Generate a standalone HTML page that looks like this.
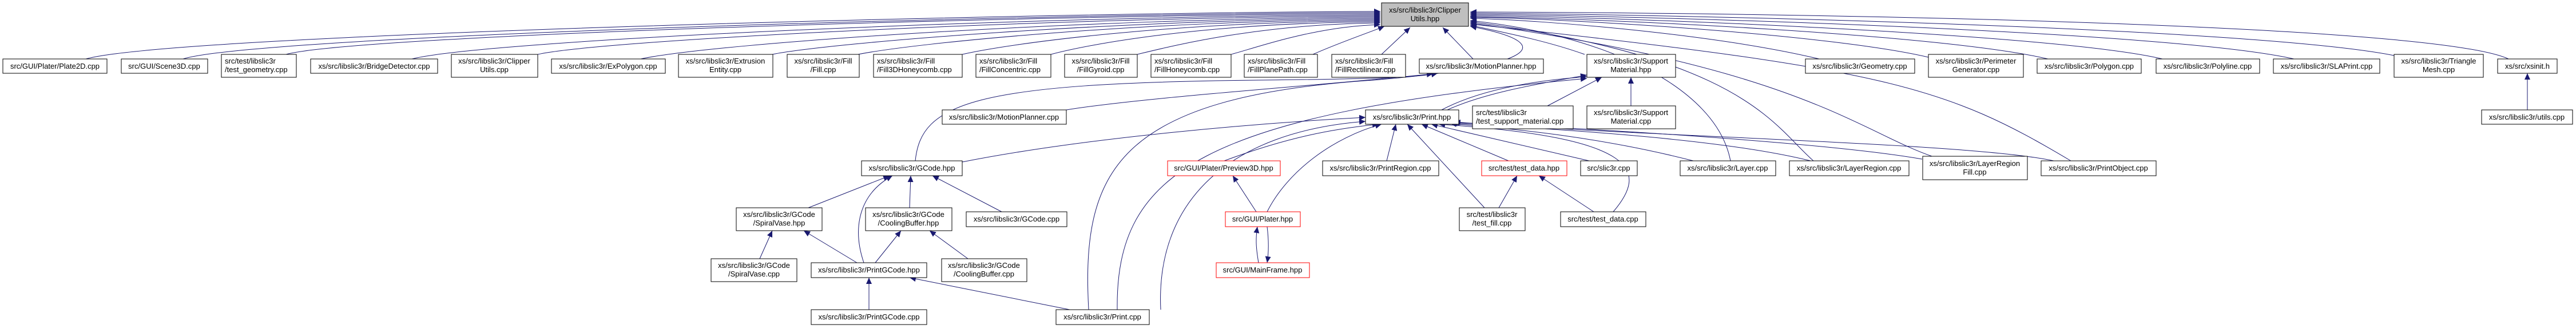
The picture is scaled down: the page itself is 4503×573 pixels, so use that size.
<!DOCTYPE html>
<html><head><meta charset="utf-8"><style>
html,body{margin:0;padding:0;background:#fff}
svg{display:block}
text{font-family:"Liberation Sans",Arial,sans-serif;font-size:13px;fill:#000}
.b{fill:#fff;stroke:#000;stroke-width:1}
.r{fill:#fff;stroke:#f00;stroke-width:1}
.g{fill:#bfbfbf;stroke:#000;stroke-width:1}
.e{fill:none;stroke:#191970;stroke-width:1}
</style></head><body>
<svg width="4503" height="573" viewBox="0 0 4503 573" xmlns="http://www.w3.org/2000/svg">
<defs><marker id="a" markerUnits="userSpaceOnUse" markerWidth="12" markerHeight="10" refX="11" refY="5" orient="auto"><path d="M0,0 L11,5 L0,10 z" fill="#191970"/></marker></defs>
<g class="e" marker-end="url(#a)">
<path d="M150,103 C300,60 1800,22 2413,20"/>
<path d="M320,103 C450,62 1800,24 2413,22"/>
<path d="M500,95 C620,62 1800,26 2413,24"/>
<path d="M720,103 C850,70 1800,28 2413,26"/>
<path d="M940,95 C1050,70 1850,30 2413,28"/>
<path d="M1120,103 C1250,75 1900,32 2413,30"/>
<path d="M1350,95 C1450,75 1950,34 2413,32"/>
<path d="M1500,95 C1600,75 2000,36 2413,34"/>
<path d="M1682,95 C1770,75 2050,38 2413,36"/>
<path d="M1837,95 C1900,78 2100,40 2413,38"/>
<path d="M1988,95 C2050,80 2200,42 2413,40"/>
<path d="M2152,95 C2200,82 2300,46 2413,43"/>
<path d="M2295,95 C2340,75 2390,58 2420,46"/>
<path d="M2415,95 L2465,48"/>
<path d="M2575,103 L2522,48"/>
<path d="M2770,95 C2700,70 2620,55 2570,44"/>
<path d="M3180,103 C3000,60 2700,35 2570,32"/>
<path d="M3371,100 C3200,60 2750,33 2570,30"/>
<path d="M3580,103 C3400,60 2800,32 2570,29"/>
<path d="M3780,103 C3600,60 2850,30 2570,27"/>
<path d="M4010,103 C3800,55 2900,28 2570,25"/>
<path d="M4185,97 C3950,50 3000,26 2570,23"/>
<path d="M4385,103 C4250,40 3100,22 2570,21"/>
<path d="M3025,281 C3000,150 2800,60 2570,36"/>
<path d="M3170,281 C3100,220 3050,100 2570,38"/>
<path d="M3380,274 C3250,230 3150,120 2570,40"/>
<path d="M3620,281 C3400,150 3300,120 2570,42"/>
<path d="M1903,541 C1890,300 1950,170 2400,140 C2650,120 2750,80 2570,46"/>
<path d="M1600,281 C1610,180 1700,145 2200,140 C2400,138 2480,135 2513,128"/>
<path d="M1864,192 C2000,170 2300,150 2505,129"/>
<path d="M2530,192 C2600,160 2700,145 2774,131"/>
<path d="M2520,192 C2590,155 2690,140 2774,134"/>
<path d="M1953,541 C1950,300 2100,200 2774,137"/>
<path d="M2705,185 L2800,135"/>
<path d="M2851,185 L2851,135"/>
<path d="M1682,283 C1900,240 2200,215 2387,205"/>
<path d="M2029,541 C2020,350 2150,230 2387,212"/>
<path d="M2140,281 C2250,240 2330,225 2410,217"/>
<path d="M2215,370 C2250,300 2330,240 2415,217"/>
<path d="M2424,281 L2440,217"/>
<path d="M2595,363 L2460,217"/>
<path d="M2637,281 L2485,217"/>
<path d="M2778,281 L2502,217"/>
<path d="M2820,370 C2880,300 2870,240 2515,217"/>
<path d="M2960,281 C2800,240 2650,225 2535,216"/>
<path d="M3165,281 C3000,240 2700,225 2537,215"/>
<path d="M3360,278 C3200,250 2800,225 2540,214"/>
<path d="M3590,281 C3450,250 2900,240 2542,213"/>
<path d="M1413,363 L1555,307"/>
<path d="M1510,459 C1490,400 1500,340 1560,307"/>
<path d="M1590,363 L1592,307"/>
<path d="M1751,370 L1630,307"/>
<path d="M1328,452 L1350,403"/>
<path d="M1498,459 L1405,403"/>
<path d="M1530,459 L1575,403"/>
<path d="M1692,452 L1625,403"/>
<path d="M1519,541 L1519,485"/>
<path d="M1870,541 L1590,485"/>
<path d="M2196,370 L2155,307"/>
<path d="M2200,459 C2195,430 2195,415 2198,396"/>
<path d="M2215,396 C2218,420 2218,440 2215,459"/>
<path d="M2620,363 L2652,307"/>
<path d="M2786,370 L2690,307"/>
<path d="M4418,192 L4418,128"/>
</g>
<!-- nodes -->
<rect class="g" x="2415" y="5" width="152" height="41"/><text x="2491" y="22" text-anchor="middle">xs/src/libslic3r/Clipper</text><text x="2491" y="37" text-anchor="middle">Utils.hpp</text>
<g text-anchor="middle">
<rect class="b" x="5" y="103" width="182" height="25"/><text x="96" y="120">src/GUI/Plater/Plate2D.cpp</text>
<rect class="b" x="212" y="103" width="151" height="25"/><text x="287" y="120">src/GUI/Scene3D.cpp</text>
<rect class="b" x="387" y="95" width="131" height="40"/><text x="393" y="111" text-anchor="start">src/test/libslic3r</text><text x="393" y="126" text-anchor="start">/test_geometry.cpp</text>
<rect class="b" x="543" y="103" width="222" height="25"/><text x="654" y="120">xs/src/libslic3r/BridgeDetector.cpp</text>
<rect class="b" x="789" y="95" width="151" height="40"/><text x="864" y="111">xs/src/libslic3r/Clipper</text><text x="864" y="126">Utils.cpp</text>
<rect class="b" x="964" y="103" width="199" height="25"/><text x="1063" y="120">xs/src/libslic3r/ExPolygon.cpp</text>
<rect class="b" x="1186" y="95" width="165" height="40"/><text x="1268" y="111">xs/src/libslic3r/Extrusion</text><text x="1268" y="126">Entity.cpp</text>
<rect class="b" x="1376" y="95" width="126" height="40"/><text x="1439" y="111">xs/src/libslic3r/Fill</text><text x="1439" y="126">/Fill.cpp</text>
<rect class="b" x="1527" y="95" width="155" height="40"/><text x="1533" y="111" text-anchor="start">xs/src/libslic3r/Fill</text><text x="1533" y="126" text-anchor="start">/Fill3DHoneycomb.cpp</text>
<rect class="b" x="1706" y="95" width="131" height="40"/><text x="1712" y="111" text-anchor="start">xs/src/libslic3r/Fill</text><text x="1712" y="126" text-anchor="start">/FillConcentric.cpp</text>
<rect class="b" x="1861" y="95" width="127" height="40"/><text x="1924" y="111">xs/src/libslic3r/Fill</text><text x="1924" y="126">/FillGyroid.cpp</text>
<rect class="b" x="2012" y="95" width="140" height="40"/><text x="2018" y="111" text-anchor="start">xs/src/libslic3r/Fill</text><text x="2018" y="126" text-anchor="start">/FillHoneycomb.cpp</text>
<rect class="b" x="2175" y="95" width="128" height="40"/><text x="2181" y="111" text-anchor="start">xs/src/libslic3r/Fill</text><text x="2181" y="126" text-anchor="start">/FillPlanePath.cpp</text>
<rect class="b" x="2328" y="95" width="129" height="40"/><text x="2334" y="111" text-anchor="start">xs/src/libslic3r/Fill</text><text x="2334" y="126" text-anchor="start">/FillRectilinear.cpp</text>
<rect class="b" x="2481" y="103" width="217" height="25"/><text x="2589" y="120">xs/src/libslic3r/MotionPlanner.hpp</text>
<rect class="b" x="2774" y="95" width="155" height="40"/><text x="2851" y="111">xs/src/libslic3r/Support</text><text x="2851" y="126">Material.hpp</text>
<rect class="b" x="3156" y="103" width="191" height="25"/><text x="3251" y="120">xs/src/libslic3r/Geometry.cpp</text>
<rect class="b" x="3371" y="95" width="166" height="40"/><text x="3454" y="111">xs/src/libslic3r/Perimeter</text><text x="3454" y="126">Generator.cpp</text>
<rect class="b" x="3561" y="103" width="182" height="25"/><text x="3652" y="120">xs/src/libslic3r/Polygon.cpp</text>
<rect class="b" x="3769" y="103" width="181" height="25"/><text x="3859" y="120">xs/src/libslic3r/Polyline.cpp</text>
<rect class="b" x="3974" y="103" width="186" height="25"/><text x="4067" y="120">xs/src/libslic3r/SLAPrint.cpp</text>
<rect class="b" x="4185" y="95" width="156" height="40"/><text x="4263" y="111">xs/src/libslic3r/Triangle</text><text x="4263" y="126">Mesh.cpp</text>
<rect class="b" x="4366" y="103" width="104" height="25"/><text x="4418" y="120">xs/src/xsinit.h</text>
<rect class="b" x="4338" y="192" width="159" height="25"/><text x="4417" y="209">xs/src/libslic3r/utils.cpp</text>
<rect class="b" x="1647" y="192" width="217" height="25"/><text x="1755" y="209">xs/src/libslic3r/MotionPlanner.cpp</text>
<rect class="b" x="2387" y="192" width="163" height="25"/><text x="2468" y="209">xs/src/libslic3r/Print.hpp</text>
<rect class="b" x="2574" y="185" width="176" height="40"/><text x="2580" y="201" text-anchor="start">src/test/libslic3r</text><text x="2580" y="216" text-anchor="start">/test_support_material.cpp</text>
<rect class="b" x="2774" y="185" width="155" height="40"/><text x="2851" y="201">xs/src/libslic3r/Support</text><text x="2851" y="216">Material.cpp</text>
<rect class="b" x="1506" y="281" width="176" height="26"/><text x="1594" y="298">xs/src/libslic3r/GCode.hpp</text>
<rect class="r" x="2041" y="281" width="197" height="26"/><text x="2139" y="298">src/GUI/Plater/Preview3D.hpp</text>
<rect class="b" x="2312" y="281" width="203" height="26"/><text x="2413" y="298">xs/src/libslic3r/PrintRegion.cpp</text>
<rect class="r" x="2590" y="281" width="149" height="26"/><text x="2664" y="298">src/test/test_data.hpp</text>
<rect class="b" x="2763" y="281" width="99" height="26"/><text x="2812" y="298">src/slic3r.cpp</text>
<rect class="b" x="2937" y="281" width="167" height="26"/><text x="3020" y="298">xs/src/libslic3r/Layer.cpp</text>
<rect class="b" x="3128" y="281" width="209" height="26"/><text x="3232" y="298">xs/src/libslic3r/LayerRegion.cpp</text>
<rect class="b" x="3361" y="273" width="183" height="41"/><text x="3452" y="290">xs/src/libslic3r/LayerRegion</text><text x="3452" y="305">Fill.cpp</text>
<rect class="b" x="3568" y="281" width="201" height="26"/><text x="3668" y="298">xs/src/libslic3r/PrintObject.cpp</text>
<rect class="b" x="1287" y="363" width="150" height="40"/><text x="1362" y="379">xs/src/libslic3r/GCode</text><text x="1362" y="394">/SpiralVase.hpp</text>
<rect class="b" x="1513" y="363" width="151" height="40"/><text x="1588" y="379">xs/src/libslic3r/GCode</text><text x="1588" y="394">/CoolingBuffer.hpp</text>
<rect class="b" x="1689" y="370" width="176" height="26"/><text x="1777" y="387">xs/src/libslic3r/GCode.cpp</text>
<rect class="r" x="2142" y="370" width="131" height="26"/><text x="2207" y="387">src/GUI/Plater.hpp</text>
<rect class="b" x="2551" y="363" width="115" height="40"/><text x="2608" y="379">src/test/libslic3r</text><text x="2608" y="394">/test_fill.cpp</text>
<rect class="b" x="2728" y="370" width="149" height="26"/><text x="2802" y="387">src/test/test_data.cpp</text>
<rect class="b" x="1243" y="452" width="150" height="40"/><text x="1318" y="468">xs/src/libslic3r/GCode</text><text x="1318" y="483">/SpiralVase.cpp</text>
<rect class="b" x="1418" y="459" width="202" height="26"/><text x="1519" y="476">xs/src/libslic3r/PrintGCode.hpp</text>
<rect class="b" x="1646" y="452" width="149" height="40"/><text x="1720" y="468">xs/src/libslic3r/GCode</text><text x="1720" y="483">/CoolingBuffer.cpp</text>
<rect class="r" x="2126" y="459" width="163" height="26"/><text x="2207" y="476">src/GUI/MainFrame.hpp</text>
<rect class="b" x="1418" y="541" width="202" height="26"/><text x="1519" y="558">xs/src/libslic3r/PrintGCode.cpp</text>
<rect class="b" x="1846" y="541" width="163" height="26"/><text x="1927" y="558">xs/src/libslic3r/Print.cpp</text>
</g>
</svg>
</body></html>
